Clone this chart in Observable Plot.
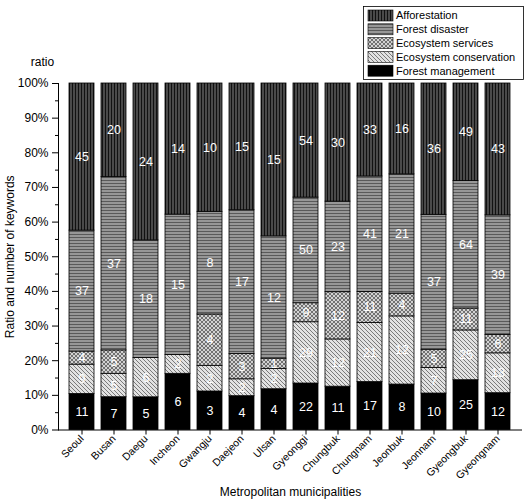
<!DOCTYPE html>
<html><head><meta charset="utf-8">
<script src="https://cdn.jsdelivr.net/npm/d3@7"></script>
<script src="https://cdn.jsdelivr.net/npm/@observablehq/plot@0.6"></script>
<style>
body{margin:0;background:#fff;font-family:Arial,"Liberation Sans",sans-serif;}
#wrap{position:relative;width:531px;height:502px;}
#legend{position:absolute;left:0;top:0;}
</style></head><body>
<svg width="0" height="0" style="position:absolute">
<defs>
<pattern id="p-aff" patternUnits="userSpaceOnUse" width="3" height="3">
<rect width="3" height="3" fill="#4a4a4a"/><rect x="0" y="0" width="1" height="3" fill="#111"/>
</pattern>
<pattern id="p-dis" patternUnits="userSpaceOnUse" width="3" height="3">
<rect width="3" height="3" fill="#979797"/><rect x="0" y="0" width="3" height="1" fill="#5a5a5a"/>
</pattern>
<pattern id="p-ser" patternUnits="userSpaceOnUse" width="4" height="4">
<rect width="4" height="4" fill="#d2d2d2"/>
<path d="M0,0L4,4M4,0L0,4" stroke="#666" stroke-width="0.9" fill="none"/>
</pattern>
<pattern id="p-con" patternUnits="userSpaceOnUse" width="4" height="4">
<rect width="4" height="4" fill="#e2e2e2"/>
<path d="M0,0L4,4M-1,3L1,5M3,-1L5,1" stroke="#7a7a7a" stroke-width="1" fill="none"/>
</pattern>
</defs>
</svg>
<div id="wrap"></div>
<script>
const regions = ["Seoul","Busan","Daegu","Incheon","Gwangju","Daejeon","Ulsan","Gyeonggi","Chungbuk","Chungnam","Jeonbuk","Jeonnam","Gyeongbuk","Gyeongnam"];
const series = ["Forest management","Ecosystem conservation","Ecosystem services","Forest disaster","Afforestation"];
const management   = [11, 7, 5, 6, 3, 4, 4, 22, 11, 17, 8, 10, 25, 12];
const conservation = [ 9, 5, 6, 2, 2, 2, 2, 29, 12, 21, 12, 7, 25, 13];
const services     = [ 4, 5, 0, 0, 4, 3, 1,  9, 12, 11,  4, 5, 11,  6];
const disaster     = [37,37,18,15, 8,17,12, 50, 23, 41, 21,37, 64, 39];
const afforestation= [45,20,24,14,10,15,15, 54, 30, 33, 16,36, 49, 43];
const yTicks = [0,0.1,0.2,0.3,0.4,0.5,0.6,0.7,0.8,0.9,1];
const legendOrder = ["Afforestation","Forest disaster","Ecosystem services","Ecosystem conservation","Forest management"];
const fills = ["#000000","url(#p-con)","url(#p-ser)","url(#p-dis)","url(#p-aff)"];

const valuesBySeries = [management, conservation, services, disaster, afforestation];
const table = [];
regions.forEach((r, i) => {
  series.forEach((s, j) => table.push({region: r, series: s, value: valuesBySeries[j][i]}));
});

const font = "Arial, 'Liberation Sans', sans-serif";
const chart = Plot.plot({
  width: 531, height: 502,
  marginLeft: 58, marginRight: 9, marginTop: 83, marginBottom: 72.5,
  style: {fontFamily: font, fontSize: "12px", color: "#000", background: "#fff"},
  x: {domain: regions, padding: 0.21, align: 0.5},
  y: {domain: [0, 1]},
  color: {type: "ordinal", domain: series, range: fills},
  marks: [
    Plot.barY(table, {x: "region", y: "value", fill: "series", offset: "normalize", stroke: "#000", strokeWidth: 0.8}),
    Plot.text(table.filter(d => d.value > 0), Plot.stackY({x: "region", y: "value", text: "value", offset: "normalize", fill: "#fff", fontSize: 12.5})),
    Plot.axisY({ticks: yTicks, tickFormat: d => Math.round(d * 100) + "%", tickSize: 6, tickPadding: 4, fontSize: 12, label: null}),
    Plot.axisY({ticks: yTicks.slice(0, 10).map(d => d + 0.05), tickFormat: () => "", tickSize: 3, label: null}),
    Plot.axisX({tickSize: 5, tickRotate: -45, fontSize: 10.5, tickPadding: 2, label: null}),
    Plot.ruleY([0], {stroke: "#000", strokeWidth: 1}),
    Plot.frame({anchor: "left", stroke: "#000", strokeWidth: 1}),
    Plot.text(["ratio"], {text: d => d, frameAnchor: "top-left", dx: -16, dy: -21, lineAnchor: "middle", textAnchor: "middle", fontSize: 12}),
    Plot.text(["Ratio and number of keywords"], {text: d => d, frameAnchor: "left", dx: -48, rotate: -90, lineAnchor: "middle", textAnchor: "middle", fontSize: 12}),
    Plot.text(["Metropolitan municipalities"], {text: d => d, frameAnchor: "bottom", dy: 62, lineAnchor: "middle", textAnchor: "middle", fontSize: 12})
  ]
});
const wrap = document.getElementById("wrap");
wrap.appendChild(chart);

// legend overlay
const leg = d3.select(wrap).append("svg").attr("id", "legend").attr("width", 531).attr("height", 90);
leg.append("rect").attr("x", 363.5).attr("y", 6.5).attr("width", 160).attr("height", 73)
  .attr("fill", "#fff").attr("stroke", "#000").attr("stroke-width", 0.8);
legendOrder.forEach((name, i) => {
  const y0 = 10 + i * 13.8;
  leg.append("rect").attr("x", 368).attr("y", y0).attr("width", 25).attr("height", 11)
    .attr("fill", fills[series.indexOf(name)]).attr("stroke", "#000").attr("stroke-width", 0.6);
  leg.append("text").attr("x", 396).attr("y", y0 + 5.5).attr("dy", "0.35em")
    .attr("font-family", font).attr("font-size", 11).attr("fill", "#000").text(name);
});
</script>
</body></html>
